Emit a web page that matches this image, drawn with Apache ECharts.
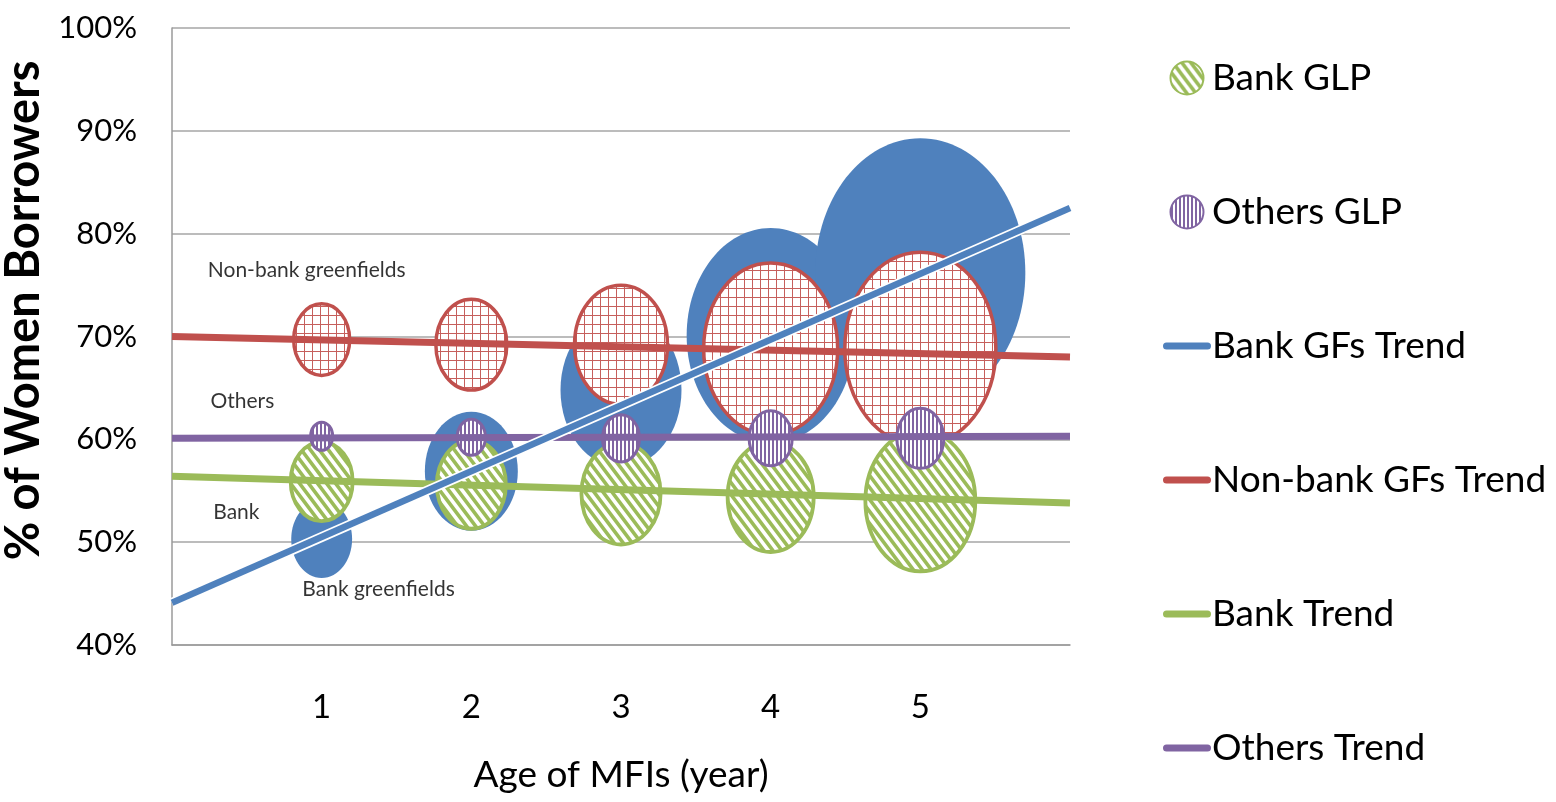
<!DOCTYPE html>
<html>
<head>
<meta charset="utf-8">
<script src="https://cdn.jsdelivr.net/npm/echarts@6/dist/echarts.min.js"></script>
<style>
  html, body { margin: 0; padding: 0; background: #ffffff; }
  #chart { width: 1556px; height: 802px; }
</style>
</head>
<body>
<div id="chart"></div>
<script>
// Age of the institutions, in years
const ages = [1, 2, 3, 4, 5];

// Share of women borrowers (%) by group and age
const bankGfShare    = [50.3, 56.9, 64.8, 70.1, 76.2];
const nonBankGfShare = [69.7, 69.2, 69.2, 68.8, 68.8];
const bankShare      = [55.9, 55.6, 54.7, 54.4, 54.0];
const othersShare    = [60.3, 60.2, 60.1, 60.1, 60.1];

// Gross loan portfolio, relative units (largest = 100); drives bubble area
const bankGfGlp    = [8.4, 19.6, 33.2, 64.0, 100];
const nonBankGfGlp = [7.1, 11.4, 19.6, 40.7, 51.7];
const bankGlp      = [8.7, 10.8, 14.2, 16.8, 27.4];
const othersGlp    = [1.1, 1.8, 3.1, 4.2, 5.0];

// Linear trend values at both ends of the age axis
const trendAges      = [0, 6];
const bankGfTrend    = [44.1, 82.5];
const nonBankGfTrend = [70.0, 68.0];
const bankTrend      = [56.4, 53.8];
const othersTrend    = [60.1, 60.3];

// Axis ticks
const xTicks = [1, 2, 3, 4, 5];
const yTicks = [40, 50, 60, 70, 80, 90, 100];

// Group captions placed in data space
const groupNames  = ['Non-bank greenfields', 'Others', 'Bank', 'Bank greenfields'];
const groupAges   = [0.90, 0.47, 0.43, 1.38];
const groupShares = [76.4, 63.7, 52.9, 45.4];

const FONT = 'Lato, "Open Sans", sans-serif';
const BLUE = '#4F81BD', RED = '#C0504D', GREEN = '#9BBB59', PURPLE = '#8064A2';

// bubble width for the largest portfolio, and height/width ratio of the ellipses
const MAX_BUBBLE = 210;
const BUBBLE_RATIO = 1.28;
function bubbleSize(glp) {
  const d = MAX_BUBBLE * Math.sqrt(glp / 100);
  return [d, d * BUBBLE_RATIO];
}

// --- fill patterns (repeating canvas tiles) ---
function makeTile(w, h, draw) {
  const c = document.createElement('canvas');
  c.width = w; c.height = h;
  const ctx = c.getContext('2d');
  ctx.fillStyle = '#ffffff';
  ctx.fillRect(0, 0, w, h);
  draw(ctx, w, h);
  return { image: c, repeat: 'repeat' };
}
// diagonal stripes running down to the right
const diagonalFill = makeTile(9, 12, (ctx, w, h) => {
  ctx.strokeStyle = GREEN;
  ctx.lineWidth = 3.6;
  for (let k = -1; k <= 1; k++) {
    ctx.beginPath();
    ctx.moveTo(k * w - w, -h);
    ctx.lineTo(k * w + 2 * w, 2 * h);
    ctx.stroke();
  }
});
// vertical stripes
const verticalFill = makeTile(4, 4, (ctx, w, h) => {
  ctx.fillStyle = PURPLE;
  ctx.fillRect(0, 0, 2, h);
});
// fine grid
const gridFill = makeTile(8, 9, (ctx, w, h) => {
  ctx.fillStyle = '#C65F5C';
  ctx.fillRect(0, 0, w, 1);
  ctx.fillRect(0, 0, 1, h);
});

function bubbleData(shares, glp) {
  return ages.map((a, i) => [a, shares[i], glp[i]]);
}
function trendData(vals) {
  return trendAges.map((a, i) => [a, vals[i]]);
}

function bubbleSeries(name, shares, glp, fill, stroke, lineWidth) {
  return {
    name: name,
    type: 'custom',
    data: bubbleData(shares, glp),
    encode: { x: 0, y: 1 },
    itemStyle: { color: fill, borderColor: stroke || fill, borderWidth: lineWidth || 0 },
    renderItem: function (params, api) {
      const c = api.coord([api.value(0), api.value(1)]);
      const s = bubbleSize(api.value(2));
      return {
        type: 'ellipse',
        shape: { cx: c[0], cy: c[1], rx: s[0] / 2, ry: s[1] / 2 },
        style: { fill: fill, stroke: stroke || null, lineWidth: lineWidth || 0 }
      };
    }
  };
}

function trendSeries(name, vals, color, width) {
  return {
    name: name,
    type: 'line',
    symbol: 'none',
    data: trendData(vals),
    lineStyle: { color: color, width: width },
    itemStyle: { color: color }
  };
}

// rounded bar used as legend key for the trend lines
const LINE_KEY = 'path://M3.5,0 H44.5 A3.5,3.5 0 0 1 44.5,7 H3.5 A3.5,3.5 0 0 1 3.5,0 Z';

const chart = echarts.init(document.getElementById('chart'), null, { renderer: 'canvas' });

const option = {
  animation: false,
  backgroundColor: '#ffffff',
  textStyle: { fontFamily: FONT, color: '#000' },
  grid: { left: 172, right: 486, top: 28, bottom: 157, containLabel: false, outerBoundsMode: 'none' },
  legend: {
    orient: 'vertical',
    left: 1158,
    top: 53,
    itemWidth: 48,
    itemHeight: 33,
    itemGap: 94,
    selectedMode: false,
    textStyle: { fontFamily: FONT, fontSize: 37, color: '#000', lineHeight: 40, padding: [0, 0, 0, -4] },
    data: [
      { name: 'Bank GLP', icon: 'circle' },
      { name: 'Others GLP', icon: 'circle' },
      { name: 'Bank GFs Trend', icon: LINE_KEY },
      { name: 'Non-bank GFs Trend', icon: LINE_KEY },
      { name: 'Bank Trend', icon: LINE_KEY },
      { name: 'Others Trend', icon: LINE_KEY }
    ]
  },
  xAxis: {
    type: 'value',
    min: 0,
    max: 6,
    interval: 1,
    name: 'Age of MFIs (year)',
    nameLocation: 'middle',
    nameGap: 112,
    nameTextStyle: { fontFamily: FONT, fontSize: 37, color: '#000' },
    axisLine: { lineStyle: { color: '#9A9A9A', width: 1.5 } },
    axisTick: { show: false },
    splitLine: { show: false },
    axisLabel: {
      margin: 46,
      fontFamily: FONT,
      fontSize: 33,
      color: '#000',
      formatter: v => (xTicks.indexOf(v) >= 0 ? String(v) : '')
    }
  },
  yAxis: {
    type: 'value',
    min: yTicks[0],
    max: yTicks[yTicks.length - 1],
    interval: yTicks[1] - yTicks[0],
    name: '% of Women Borrowers',
    nameLocation: 'middle',
    nameGap: 121,
    nameTextStyle: { fontFamily: FONT, fontSize: 47, fontWeight: 'bold', color: '#000', padding: [0, 0, 0, 52] },
    axisLine: { show: true, lineStyle: { color: '#9A9A9A', width: 1.5 } },
    axisTick: { show: false },
    splitLine: { show: true, lineStyle: { color: '#A6A6A6', width: 1.5 } },
    axisLabel: {
      margin: 35,
      fontFamily: FONT,
      fontSize: 31,
      color: '#000',
      formatter: v => v + '%'
    }
  },
  series: [
    bubbleSeries('Bank GFs GLP', bankGfShare, bankGfGlp, BLUE, null, 0),
    bubbleSeries('Non-bank GFs GLP', nonBankGfShare, nonBankGfGlp, gridFill, RED, 3.5),
    bubbleSeries('Bank GLP', bankShare, bankGlp, diagonalFill, GREEN, 3.8),
    bubbleSeries('Others GLP', othersShare, othersGlp, verticalFill, PURPLE, 3),
    trendSeries('Non-bank GFs Trend', nonBankGfTrend, RED, 7),
    trendSeries('Bank Trend', bankTrend, GREEN, 7),
    trendSeries('Others Trend', othersTrend, PURPLE, 7),
    {
      // white halo under the bank greenfields trend
      name: 'Bank GFs Trend halo',
      type: 'line',
      symbol: 'none',
      silent: true,
      data: trendData(bankGfTrend),
      lineStyle: { color: '#ffffff', width: 10 },
      itemStyle: { color: '#ffffff' }
    },
    trendSeries('Bank GFs Trend', bankGfTrend, BLUE, 6.5),
    {
      name: 'Group captions',
      type: 'scatter',
      symbolSize: 0,
      silent: true,
      data: groupNames.map((n, i) => ({ name: n, value: [groupAges[i], groupShares[i]] })),
      label: {
        show: true,
        position: 'inside',
        formatter: p => p.name,
        fontFamily: FONT,
        fontSize: 21,
        color: '#000'
      }
    }
  ]
};

chart.setOption(option);
</script>
</body>
</html>
